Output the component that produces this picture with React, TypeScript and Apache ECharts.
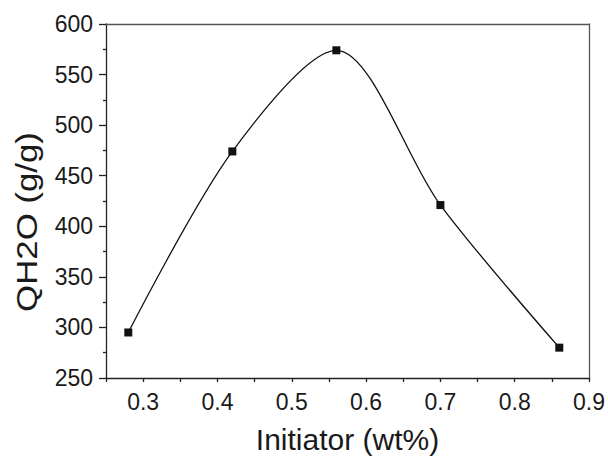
import React, { useEffect, useRef } from "react";
import * as echarts from "echarts";

const initiator = [0.28, 0.42, 0.56, 0.7, 0.86];
const qh2o = [295, 474, 574, 421, 280];
const xTitle = "Initiator (wt%)";
const yTitle = "QH2O (g/g)";

export default function App() {
  const ref = useRef<HTMLDivElement>(null);
  useEffect(() => {
    if (!ref.current) return;
    const chart = echarts.init(ref.current, undefined, { renderer: "svg" });
    const font = "Liberation Sans";
    const data = initiator.map((x, i) => [x, qh2o[i]]);
    chart.setOption({
      animation: false,
      backgroundColor: "#ffffff",
      textStyle: { fontFamily: font },
      grid: { left: 106, right: 18, top: 24, bottom: 79, containLabel: false },
      graphic: [
        {
          type: "text",
          x: 27,
          y: 222,
          rotation: Math.PI / 2,
          scaleX: 1.16,
          style: {
            text: yTitle,
            fontFamily: font,
            fontSize: 30,
            fill: "#1a1a1a",
            align: "center",
            verticalAlign: "middle",
          },
        },
      ],
      xAxis: [
        {
          type: "value",
          min: 0.25,
          max: 0.9,
          interval: 0.05,
          name: xTitle,
          nameLocation: "middle",
          nameGap: 46,
          nameTextStyle: { fontFamily: font, fontSize: 30, color: "#1a1a1a" },
          axisLine: { show: true, onZero: false, lineStyle: { color: "#222", width: 1.3 } },
          axisTick: { show: true, inside: false, length: 4, lineStyle: { color: "#222", width: 1.3 } },
          axisLabel: {
            margin: 12,
            fontFamily: font,
            fontSize: 23,
            color: "#1a1a1a",
            showMinLabel: true,
            showMaxLabel: true,
            formatter: (v: number) => {
              const r = Math.round(v * 100);
              return r % 10 === 0 ? (r / 100).toFixed(1) : "";
            },
          },
          splitLine: { show: false },
        },
        {
          type: "value",
          position: "top",
          min: 0.25,
          max: 0.9,
          axisLine: { show: true, onZero: false, lineStyle: { color: "#555", width: 1.3 } },
          axisTick: { show: false },
          axisLabel: { show: false },
          splitLine: { show: false },
        },
      ],
      yAxis: [
        {
          type: "value",
          min: 250,
          max: 600,
          interval: 50,
          axisLine: { show: true, onZero: false, lineStyle: { color: "#222", width: 1.3 } },
          axisTick: { show: true, inside: false, length: 7, lineStyle: { color: "#222", width: 1.3 } },
          minorTick: { show: true, splitNumber: 2, length: 3, lineStyle: { color: "#222", width: 1.3 } },
          axisLabel: { margin: 13, fontFamily: font, fontSize: 23, color: "#1a1a1a" },
          splitLine: { show: false },
        },
        {
          type: "value",
          position: "right",
          min: 250,
          max: 600,
          axisLine: { show: true, onZero: false, lineStyle: { color: "#555", width: 1.3 } },
          axisTick: { show: false },
          axisLabel: { show: false },
          splitLine: { show: false },
        },
      ],
      series: [
        {
          type: "line",
          data,
          smooth: 0.3,
          symbol: "rect",
          symbolSize: 8,
          showSymbol: true,
          lineStyle: { color: "#111", width: 1.3 },
          itemStyle: { color: "#111" },
        },
      ],
    });
    return () => chart.dispose();
  }, []);
  return <div ref={ref} style={{ width: 608, height: 459, position: "absolute", left: 0, top: 0 }} />;
}
